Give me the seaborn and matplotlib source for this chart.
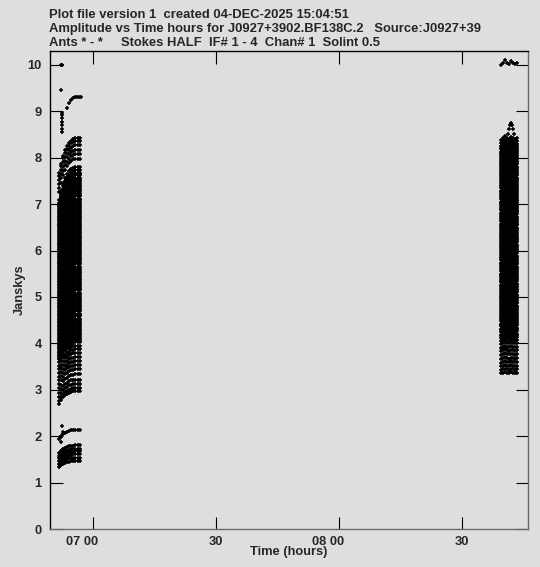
import numpy as np
import pandas as pd
import seaborn as sns
import matplotlib
matplotlib.use("Agg")
import matplotlib.pyplot as plt
from matplotlib.transforms import ScaledTranslation

# ---- data (time in hours, amplitude in Jy) ----
# scan 1: integration stamps and per-baseline amplitudes
left_times = [6.862, 6.870, 6.878, 6.887, 6.895, 6.903, 6.912, 6.920, 6.928, 6.937, 6.945]
left_gain = [0.91, 0.935, 0.955, 0.97, 0.98, 0.988, 0.994, 0.998, 1.0, 1.0, 1.0]
left_amps = [1.47, 1.54, 1.61, 1.67, 1.73, 1.80, 2.14,
             2.97, 3.04, 3.13, 3.22, 3.33, 3.44, 3.53, 3.61, 3.70, 3.79, 3.87, 3.95,
             4.02, 4.06, 4.09, 4.13, 4.17, 4.20, 4.24, 4.28, 4.31, 4.36, 4.39, 4.42,
             4.47, 4.50, 4.53, 4.58, 4.61, 4.64, 4.69, 4.72, 4.76, 4.80, 4.83, 4.87,
             4.91, 4.94, 4.98, 5.03, 5.06, 5.09, 5.14, 5.17, 5.21, 5.25, 5.28, 5.32,
             5.36, 5.39, 5.43, 5.48, 5.51, 5.54, 5.59, 5.62, 5.65, 5.70, 5.73, 5.77,
             5.81, 5.84, 5.88, 5.93, 5.96, 5.99, 6.04, 6.07, 6.11, 6.15, 6.18, 6.22,
             6.27, 6.30, 6.33, 6.38, 6.41, 6.44, 6.49, 6.52, 6.56, 6.60, 6.63, 6.67,
             6.72, 6.75, 6.78, 6.83, 6.86, 6.89, 6.94, 6.97, 7.01, 7.05, 7.08, 7.12,
             7.17, 7.20, 7.23, 7.28, 7.31, 7.34, 7.39, 7.42, 7.46, 7.50, 7.54, 7.57,
             7.62, 7.65, 7.68, 7.73, 7.80, 7.98, 8.08, 8.17, 8.27, 8.36, 8.42]

# scan 2
right_times = [8.658, 8.667, 8.675, 8.683, 8.692, 8.700, 8.708, 8.717, 8.725]
right_gain = [0.995, 1.0, 1.005, 1.0, 0.998, 1.003, 1.0, 0.997, 1.0]
right_amps = [3.37, 3.44, 3.52, 3.60, 3.68, 3.77, 3.85, 3.93, 4.01, 4.08, 4.14,
              4.18, 4.21, 4.26, 4.30, 4.33, 4.39, 4.42, 4.45, 4.50, 4.54, 4.57,
              4.62, 4.66, 4.69, 4.74, 4.78, 4.81, 4.86, 4.90, 4.93, 4.98, 5.02,
              5.05, 5.10, 5.14, 5.17, 5.22, 5.26, 5.29, 5.34, 5.38, 5.41, 5.46,
              5.50, 5.53, 5.58, 5.62, 5.65, 5.70, 5.74, 5.77, 5.82, 5.86, 5.89,
              5.94, 5.98, 6.01, 6.06, 6.10, 6.13, 6.18, 6.22, 6.25, 6.30, 6.34,
              6.37, 6.42, 6.46, 6.49, 6.54, 6.58, 6.61, 6.66, 6.70, 6.73, 6.78,
              6.82, 6.85, 6.90, 6.94, 6.97, 7.02, 7.06, 7.09, 7.14, 7.18, 7.21,
              7.26, 7.30, 7.33, 7.38, 7.42, 7.45, 7.50, 7.54, 7.57, 7.62, 7.66,
              7.69, 7.74, 7.78, 7.81, 7.86, 7.90, 7.93, 7.98, 8.02, 8.05, 8.10,
              8.14, 8.17, 8.22, 8.26, 8.29, 8.35, 8.42, 10.05]

# single points that do not follow a baseline track
extra_t = [6.869, 6.872, 6.875, 6.870, 6.874, 6.874, 6.874, 6.874, 6.874, 6.874,
           6.874, 6.893, 6.904, 6.910, 6.918, 6.927, 6.935, 6.943, 6.949,
           6.874, 6.868, 6.876, 6.870, 6.866, 6.872, 6.864, 6.868,
           8.690, 8.694, 8.698, 8.702, 8.706, 8.686, 8.710]
extra_a = [10.0, 9.99, 10.0, 9.45, 8.55, 8.62, 8.70, 8.78, 8.85, 8.92,
           8.97, 9.07, 9.18, 9.24, 9.28, 9.30, 9.31, 9.31, 9.31,
           2.23, 1.99, 2.10, 1.88, 1.62, 1.70, 1.35, 2.85,
           8.62, 8.70, 8.75, 8.70, 8.62, 8.52, 8.52]

rows = []
for t, g in zip(left_times, left_gain):
    for a in left_amps:
        rows.append((t, a * g))
for t, g in zip(right_times, right_gain):
    for a in right_amps:
        rows.append((t, a * g))
rows += list(zip(extra_t, extra_a))
df = pd.DataFrame(rows, columns=["time", "amp"])

xtick_pos = [7.0, 7.5, 8.0, 8.5]
xtick_lab = ["07 00", "30", "08 00", "30"]

# ---- plot ----
bg = "#dedede"
sns.set_style("ticks")
plt.rcParams["font.family"] = ["Liberation Sans", "DejaVu Sans"]
plt.rcParams["font.weight"] = "bold"
plt.rcParams["font.size"] = 9

fig = plt.figure(figsize=(5.4, 5.67), dpi=100, facecolor=bg)
ax = fig.add_axes([50 / 540, 1 - 529 / 567, 478 / 540, 478 / 567])
ax.set_facecolor(bg)

sns.scatterplot(data=df, x="time", y="amp", marker="+", s=10, color="black",
                linewidth=1.1, ax=ax, legend=False)

ax.set_xlim(6.825, 8.768)
ax.set_ylim(0, 10.3)
ax.set_yticks(range(0, 11))
ax.set_xticks(xtick_pos)
ax.set_xticklabels(xtick_lab)
ax.set_xlabel("")
ax.set_ylabel("")

ax.tick_params(direction="in", length=9, width=0.8, top=True, right=True,
               labelsize=9.3, color="black")
ax.tick_params(axis="y", pad=6)
ax.tick_params(axis="x", pad=5)
for lab in ax.get_xticklabels():
    if " " in lab.get_text():
        lab.set_horizontalalignment("right")
        lab.set_transform(lab.get_transform() + ScaledTranslation(0.05, 0, fig.dpi_scale_trans))

for side in ["left", "top"]:
    ax.spines[side].set_color("black")
for side in ["bottom", "right"]:
    ax.spines[side].set_color("#6a6a6a")
for sp in ax.spines.values():
    sp.set_linewidth(1.0)

title_lines = ["Plot file version 1  created 04-DEC-2025 15:04:51",
               "Amplitude vs Time hours for J0927+3902.BF138C.2   Source:J0927+39",
               "Ants * - *     Stokes HALF  IF# 1 - 4  Chan# 1  Solint 0.5"]
for i, line in enumerate(title_lines):
    fig.text(49 / 540, 1 - (15 + 14 * i) / 567, line, ha="left", va="center",
             fontsize=9.35, fontweight="bold")

fig.text(20 / 540, 1 - 290 / 567, "Janskys", rotation=90, ha="center", va="center",
         fontsize=9.3, fontweight="bold")
fig.text(289 / 540, 1 - 552 / 567, "Time (hours)", ha="center", va="center",
         fontsize=9.3, fontweight="bold")

fig.savefig("out.png", dpi=100, facecolor=bg)
